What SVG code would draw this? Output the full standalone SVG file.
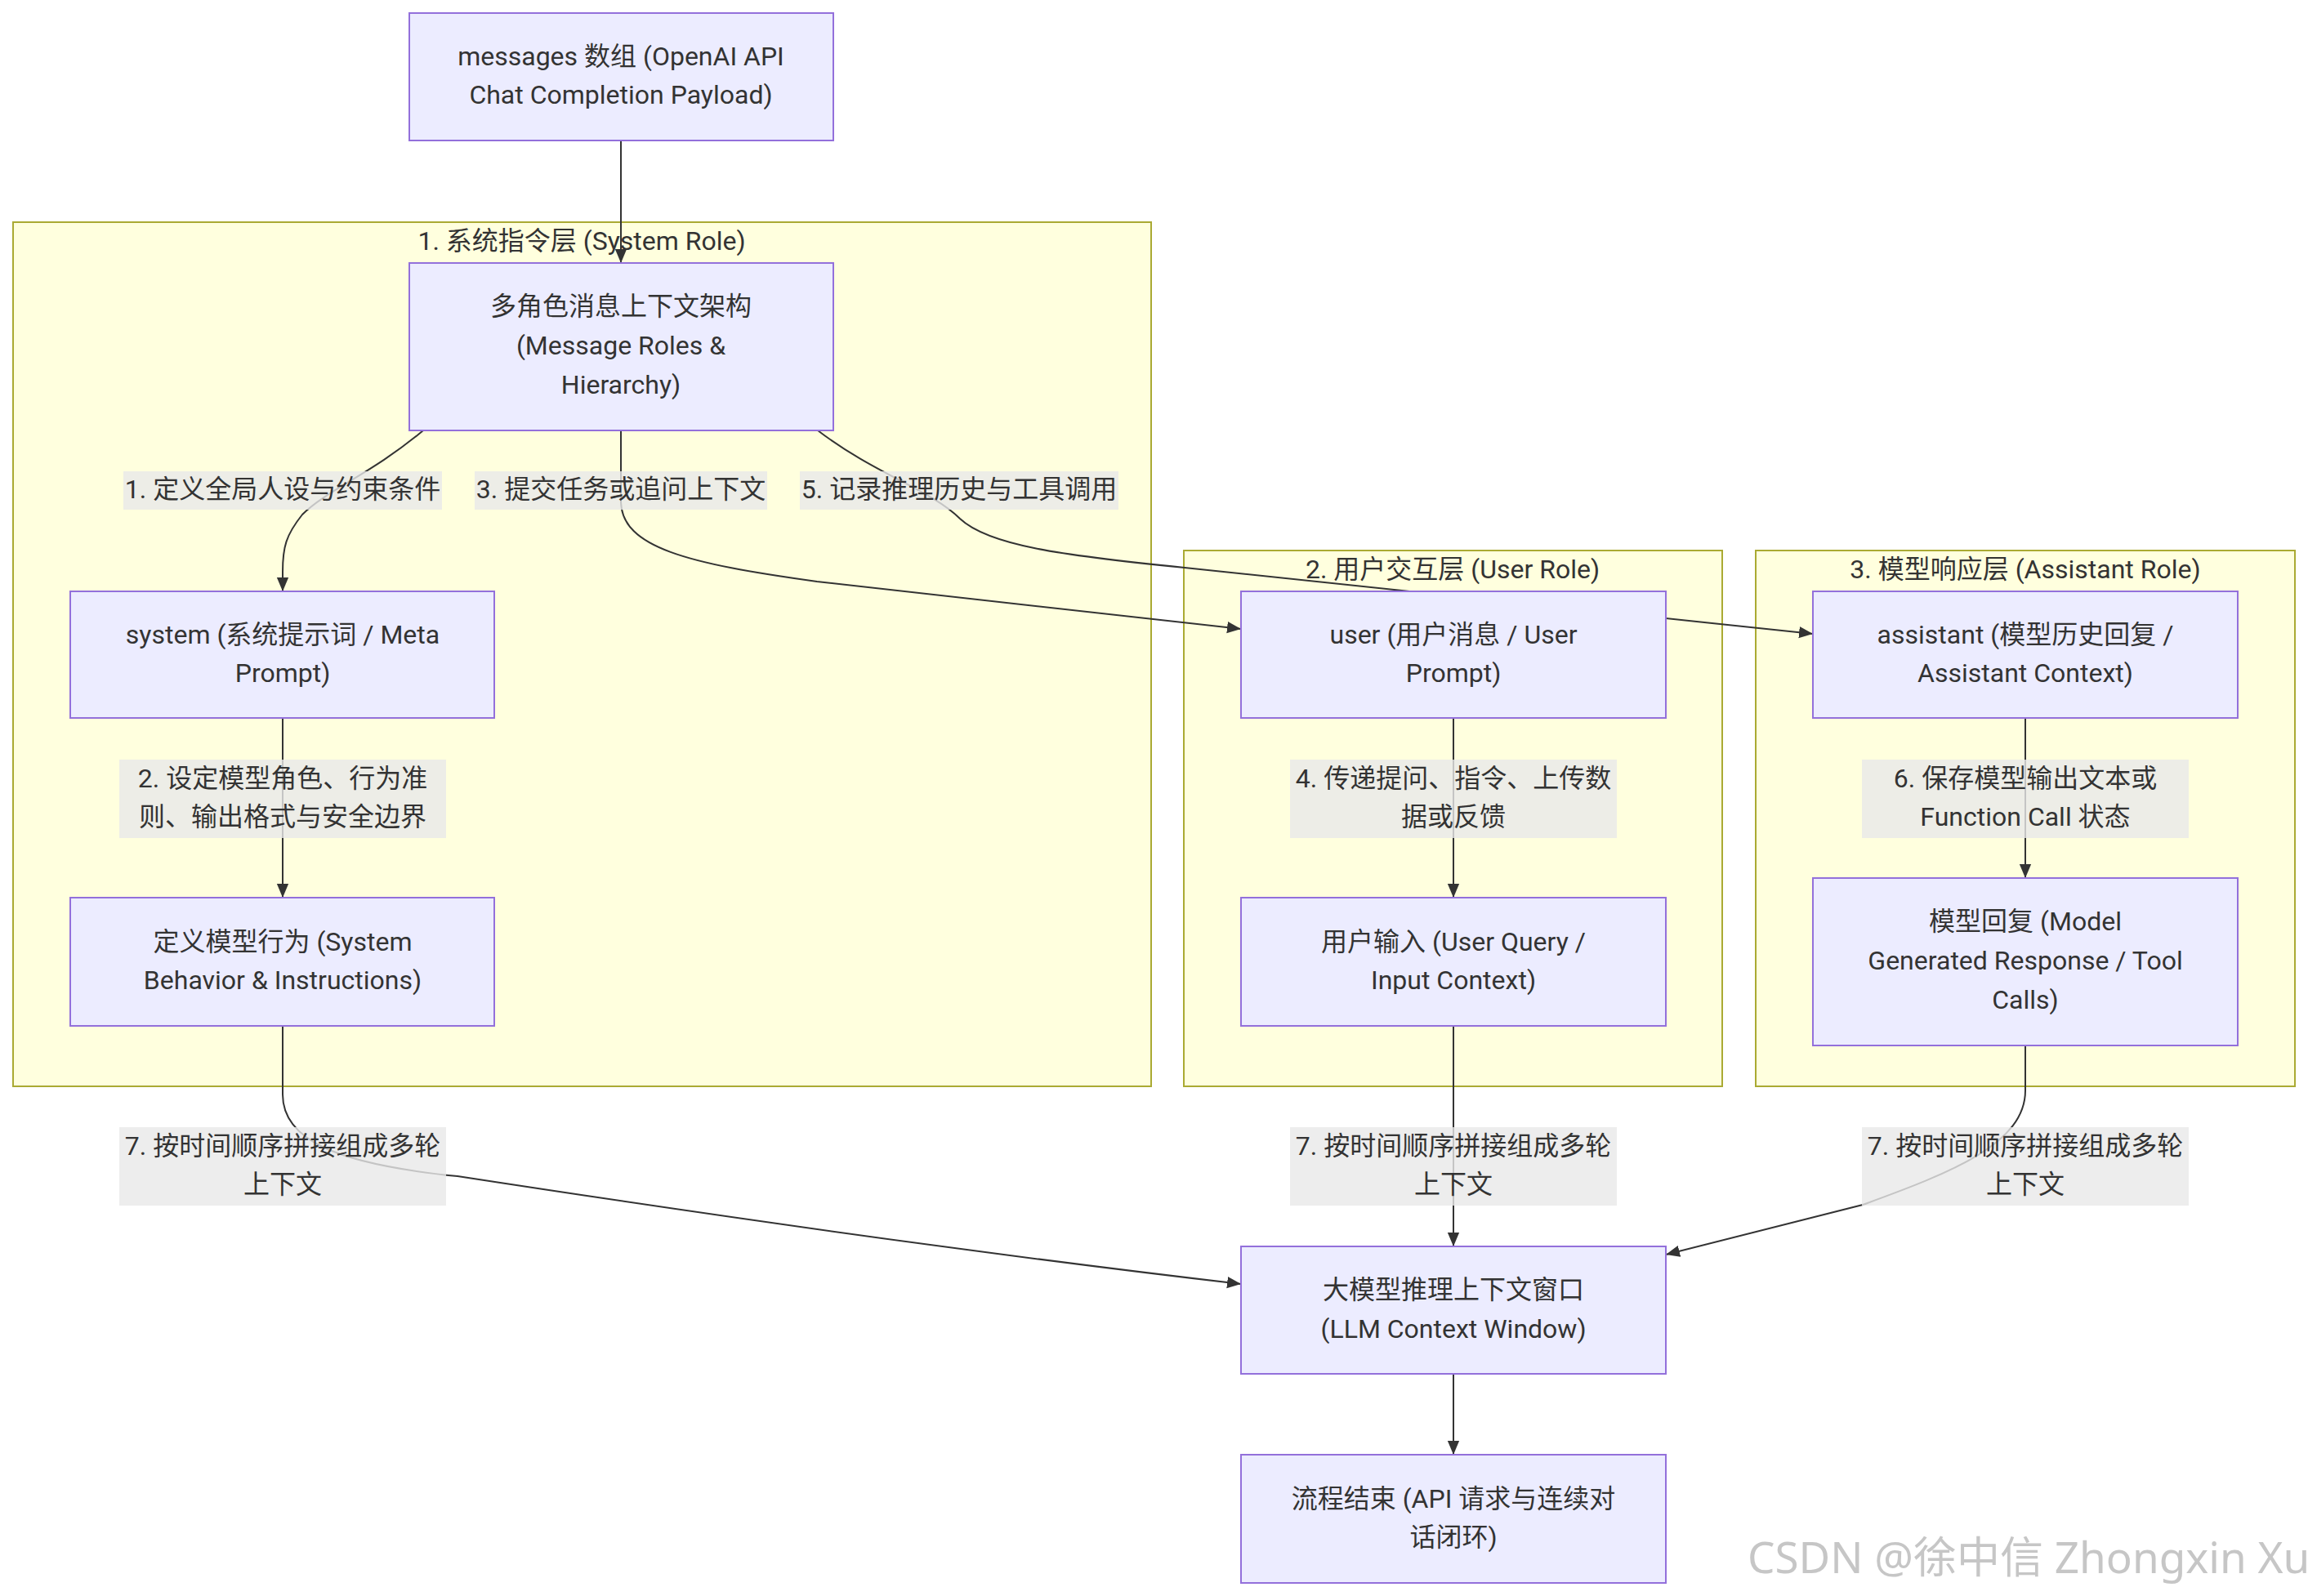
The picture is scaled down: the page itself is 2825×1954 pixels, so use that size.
<svg xmlns="http://www.w3.org/2000/svg" width="2825" height="1954" viewBox="0 0 2825 1954">
<defs>
<marker id="arrow" viewBox="0 0 10 10" refX="10" refY="5" markerUnits="userSpaceOnUse" markerWidth="17" markerHeight="17" orient="auto">
<path d="M0,0.8 L10,5 L0,9.2 z" fill="#333333"/>
</marker>
<style>
.cluster rect{fill:#ffffde;stroke:#aaaa33;stroke-width:2}
.node rect{fill:#ececff;stroke:#9370db;stroke-width:2}
.edge{fill:none;stroke:#333333;stroke-width:2;marker-end:url(#arrow)}
.lbl rect{fill:#e8e8e8;fill-opacity:0.8}
text{font-family:Roboto,"Noto Sans CJK SC",sans-serif;font-size:32px;fill:#333333;text-anchor:middle;dominant-baseline:central}
.wm{font-family:"Noto Sans","Noto Sans CJK SC",sans-serif;font-size:53px;fill:#c6c6c6;text-anchor:start}
</style>
</defs>
<rect width="2825" height="1954" fill="#ffffff"/>
<g id="clusters">
<g id="sg-system" class="cluster"><rect x="16" y="272" width="1393" height="1058"/><text x="712" y="295">1. 系统指令层 (System Role)</text></g>
<g id="sg-user" class="cluster"><rect x="1449" y="674" width="659" height="656"/><text x="1778" y="697">2. 用户交互层 (User Role)</text></g>
<g id="sg-assistant" class="cluster"><rect x="2149" y="674" width="660" height="656"/><text x="2479" y="697">3. 模型响应层 (Assistant Role)</text></g>
</g>
<g id="connectors">
<path class="edge" d="M760,172 L760,322"/>
<path class="edge" d="M518,527 C455,580 400,600 370,630 C350,655 346,670 346,700 L346,724"/>
<path class="edge" d="M760,527 L760,615 C762,670 840,690 1000,712 L1519,770"/>
<path class="edge" d="M1001,527 C1070,580 1140,600 1175,635 C1210,668 1300,680 1450,695 L2219,776"/>
<path class="edge" d="M346,879 L346,1099"/>
<path class="edge" d="M1779,879 L1779,1099"/>
<path class="edge" d="M2479,879 L2479,1075"/>
<path class="edge" d="M346,1256 L346,1340 C346,1395 410,1425 560,1440 C820,1480 1200,1535 1519,1572"/>
<path class="edge" d="M1779,1256 L1779,1526"/>
<path class="edge" d="M2479,1280 L2479,1335 C2479,1400 2390,1435 2280,1475 L2039,1536"/>
<path class="edge" d="M1779,1682 L1779,1781"/>
</g>
<g id="edge-labels">
<g class="lbl" id="lbl1"><rect x="151" y="577" width="390" height="47"/><text x="346" y="599">1. 定义全局人设与约束条件</text></g>
<g class="lbl" id="lbl3"><rect x="581" y="577" width="358" height="47"/><text x="760" y="599">3. 提交任务或追问上下文</text></g>
<g class="lbl" id="lbl5"><rect x="979" y="577" width="390" height="47"/><text x="1174" y="599">5. 记录推理历史与工具调用</text></g>
<g class="lbl" id="lbl2"><rect x="146" y="930" width="400" height="96"/><text x="346" y="953">2. 设定模型角色、行为准</text><text x="346" y="1000">则、输出格式与安全边界</text></g>
<g class="lbl" id="lbl4"><rect x="1579" y="930" width="400" height="96"/><text x="1779" y="953">4. 传递提问、指令、上传数</text><text x="1779" y="1000">据或反馈</text></g>
<g class="lbl" id="lbl6"><rect x="2279" y="930" width="400" height="96"/><text x="2479" y="953">6. 保存模型输出文本或</text><text x="2479" y="1000">Function Call 状态</text></g>
<g class="lbl" id="lbl7a"><rect x="146" y="1380" width="400" height="96"/><text x="346" y="1403">7. 按时间顺序拼接组成多轮</text><text x="346" y="1450">上下文</text></g>
<g class="lbl" id="lbl7b"><rect x="1579" y="1380" width="400" height="96"/><text x="1779" y="1403">7. 按时间顺序拼接组成多轮</text><text x="1779" y="1450">上下文</text></g>
<g class="lbl" id="lbl7c"><rect x="2279" y="1380" width="400" height="96"/><text x="2479" y="1403">7. 按时间顺序拼接组成多轮</text><text x="2479" y="1450">上下文</text></g>
</g>
<g id="node-messages" class="node"><rect x="501" y="16" width="519" height="156"/><text x="760" y="69">messages 数组 (OpenAI API</text><text x="760" y="116">Chat Completion Payload)</text></g>
<g id="node-roles" class="node"><rect x="501" y="322" width="519" height="205"/><text x="760" y="375">多角色消息上下文架构</text><text x="760" y="423">(Message Roles &amp;</text><text x="760" y="471">Hierarchy)</text></g>
<g id="node-system" class="node"><rect x="86" y="724" width="519" height="155"/><text x="346" y="777">system (系统提示词 / Meta</text><text x="346" y="824">Prompt)</text></g>
<g id="node-sysbehavior" class="node"><rect x="86" y="1099" width="519" height="157"/><text x="346" y="1153">定义模型行为 (System</text><text x="346" y="1200">Behavior &amp; Instructions)</text></g>
<g id="node-user" class="node"><rect x="1519" y="724" width="520" height="155"/><text x="1779" y="777">user (用户消息 / User</text><text x="1779" y="824">Prompt)</text></g>
<g id="node-userinput" class="node"><rect x="1519" y="1099" width="520" height="157"/><text x="1779" y="1153">用户输入 (User Query /</text><text x="1779" y="1200">Input Context)</text></g>
<g id="node-assistant" class="node"><rect x="2219" y="724" width="520" height="155"/><text x="2479" y="777">assistant (模型历史回复 /</text><text x="2479" y="824">Assistant Context)</text></g>
<g id="node-reply" class="node"><rect x="2219" y="1075" width="520" height="205"/><text x="2479" y="1128">模型回复 (Model</text><text x="2479" y="1176">Generated Response / Tool</text><text x="2479" y="1224">Calls)</text></g>
<g id="node-llm" class="node"><rect x="1519" y="1526" width="520" height="156"/><text x="1779" y="1579">大模型推理上下文窗口</text><text x="1779" y="1627">(LLM Context Window)</text></g>
<g id="node-end" class="node"><rect x="1519" y="1781" width="520" height="157"/><text x="1779" y="1835">流程结束 (API 请求与连续对</text><text x="1779" y="1882">话闭环)</text></g>
<text class="wm" x="2139" y="1905">CSDN @徐中信 Zhongxin Xu</text>
</svg>
